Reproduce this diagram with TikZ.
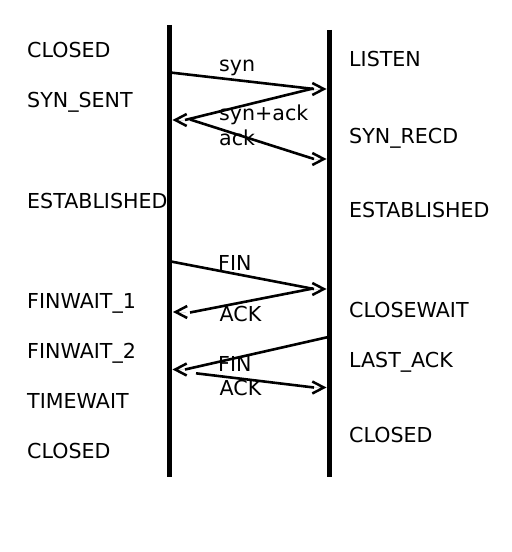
\documentclass[tikz,border=0pt]{standalone}
\usepackage{fontspec}
\setmainfont{DejaVu Sans}
\usetikzlibrary{arrows.meta}
\begin{document}
\begin{tikzpicture}[x=1bp,y=-1bp,
  lbl/.style={anchor=base west, inner sep=0pt, font=\fontsize{20.6bp}{24bp}\selectfont},
  life/.style={line width=4.7bp},
  msg/.style={line width=2.6bp},
  head/.style={line width=0.01bp, -{Straight Barb[length=11.5bp, width=12bp, line width=2.5bp]}}]
\useasboundingbox (0,0) rectangle (512,552);
% lifelines
\coordinate (Ltop) at (169.7,25);
\coordinate (Lbot) at (169.7,476.5);
\coordinate (Rtop) at (329.3,30);
\coordinate (Rbot) at (329.3,476.5);
\draw[life] (Ltop) -- (Lbot);
\draw[life] (Rtop) -- (Rbot);
% client states
\node[lbl] (c1) at (27,57.5) {CLOSED};
\node[lbl] (c2) at (27,108) {SYN\_SENT};
\node[lbl] (c3) at (27,208.3) {ESTABLISHED};
\node[lbl] (c4) at (27,308.3) {FINWAIT\_1};
\node[lbl] (c5) at (27,358.3) {FINWAIT\_2};
\node[lbl] (c6) at (27,408.3) {TIMEWAIT};
\node[lbl] (c7) at (27,458.3) {CLOSED};
% server states
\node[lbl] (s1) at (349,66.7) {LISTEN};
\node[lbl] (s2) at (349,143.3) {SYN\_RECD};
\node[lbl] (s3) at (349,217.3) {ESTABLISHED};
\node[lbl] (s4) at (349,317.3) {CLOSEWAIT};
\node[lbl] (s5) at (349,367.3) {LAST\_ACK};
\node[lbl] (s6) at (349,442.3) {CLOSED};
% message labels
\node[lbl] (m1) at (219,71.7) {syn};
\node[lbl] (m2) at (219,120.7) {syn+ack};
\node[lbl] (m3) at (219,146) {ack};
\node[lbl] (m4) at (218,270.7) {FIN};
\node[lbl] (m5) at (219.5,321) {ACK};
\node[lbl] (m6) at (218,371) {FIN};
\node[lbl] (m7) at (219.5,395.7) {ACK};
% message points
\coordinate (a0) at (172,72.7);
\coordinate (a1) at (314,89);
\coordinate (a2) at (326.5,89);
\coordinate (b0) at (313,88.5);
\coordinate (b1) at (185,120);
\coordinate (b2) at (172.5,120);
\coordinate (c0) at (190,119.5);
\coordinate (c1p) at (314,159);
\coordinate (c2p) at (326.5,159);
\coordinate (d0) at (172,261.7);
\coordinate (d1) at (314,289);
\coordinate (d2) at (326.5,289);
\coordinate (e0) at (313,288.5);
\coordinate (e1) at (190,312.5);
\coordinate (e1h) at (185.5,312);
\coordinate (e2) at (173,312);
\coordinate (f0) at (327,337.3);
\coordinate (f1) at (185,369.5);
\coordinate (f2) at (172.5,369.5);
\coordinate (g0) at (196,373.3);
\coordinate (g1) at (314,387.5);
\coordinate (g2) at (326.5,387.5);
\draw[msg] (a0) -- (a1);  \draw[head] (a1) -- (a2);
\draw[msg] (b0) -- (b1);  \draw[head] (b1) -- (b2);
\draw[msg] (c0) -- (c1p); \draw[head] (c1p) -- (c2p);
\draw[msg] (d0) -- (d1);  \draw[head] (d1) -- (d2);
\draw[msg] (e0) -- (e1);  \draw[head] (e1h) -- (e2);
\draw[msg] (f0) -- (f1);  \draw[head] (f1) -- (f2);
\draw[msg] (g0) -- (g1);  \draw[head] (g1) -- (g2);
\end{tikzpicture}
\end{document}
